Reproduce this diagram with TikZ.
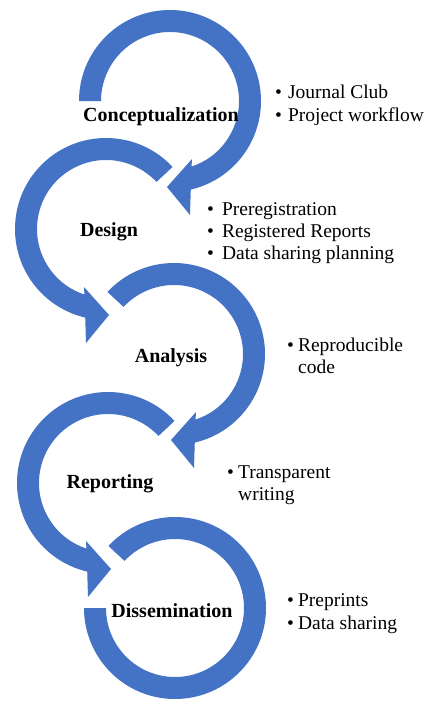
\documentclass[tikz,border=0pt]{standalone}
\usepackage{fontspec}
\setmainfont{Liberation Serif}
\definecolor{arrowblue}{RGB}{68,114,196}
% clockwise block arrow: centre x, centre y (screen px), start angle
\newcommand\cwarrow[3]{%
  \begin{scope}[shift={(#1,-#2)}]
    \fill[blockarrow] (#3:91) arc[start angle=#3,end angle=-76.8,radius=91]
      -- (20,-114) -- (-3,-86) -- (22,-58) -- (-71.8:69)
      arc[start angle=-71.8,end angle=#3,radius=69] -- cycle;
  \end{scope}}
% counter-clockwise block arrow
\newcommand\ccwarrow[3]{%
  \begin{scope}[shift={(#1,-#2)}]
    \fill[blockarrow] (#3:91) arc[start angle=#3,end angle=256.8,radius=91]
      -- (-20,-114) -- (3,-86) -- (-22,-58) -- (251.8:69)
      arc[start angle=251.8,end angle=#3,radius=69] -- cycle;
  \end{scope}}
\begin{document}
\begin{tikzpicture}[x=1pt,y=1pt,
  blockarrow/.style={fill=arrowblue},
  stage/.style={font=\fontsize{20}{24}\selectfont\bfseries, anchor=base, inner sep=0pt},
  item/.style={font=\fontsize{19.5}{23}\selectfont, anchor=base west, inner sep=0pt}]
\fill[white] (0,0) rectangle (431,-704);
\useasboundingbox (0,0) rectangle (431,-704);

\cwarrow{170}{101}{180}
\ccwarrow{106}{229}{43}
\cwarrow{174}{354}{137}
\ccwarrow{108}{483}{43}
\begin{scope}[shift={(175,-608)}]
  \fill[blockarrow] (137:91) arc[start angle=137,end angle=-180,radius=91]
    -- (-180:69) arc[start angle=-180,end angle=137,radius=69] -- cycle;
\end{scope}

\node[stage] (concept) at (161,-121) {Conceptualization};
\node[stage] (design) at (109,-236) {Design};
\node[stage] (analysis) at (171,-362) {Analysis};
\node[stage] (reporting) at (110,-488) {Reporting};
\node[stage] (dissem) at (172,-617) {Dissemination};

\node[item] (c1) at (275,-98) {\textbullet\hspace{6pt}Journal Club};
\node[item] (c2) at (275,-121) {\textbullet\hspace{6pt}Project workflow};

\node[item] (d1) at (207,-215) {\textbullet\hspace{8pt}Preregistration};
\node[item] (d2) at (207,-237) {\textbullet\hspace{8pt}Registered Reports};
\node[item] (d3) at (207,-259) {\textbullet\hspace{8pt}Data sharing planning};

\node[item] (a1) at (287,-351) {\textbullet\hspace{4pt}Reproducible};
\node[item] (a2) at (298,-373) {code};

\node[item] (r1) at (227,-478) {\textbullet\hspace{4pt}Transparent};
\node[item] (r2) at (238,-500) {writing};

\node[item] (s1) at (287,-606) {\textbullet\hspace{4pt}Preprints};
\node[item] (s2) at (287,-629) {\textbullet\hspace{4pt}Data sharing};
\end{tikzpicture}
\end{document}
